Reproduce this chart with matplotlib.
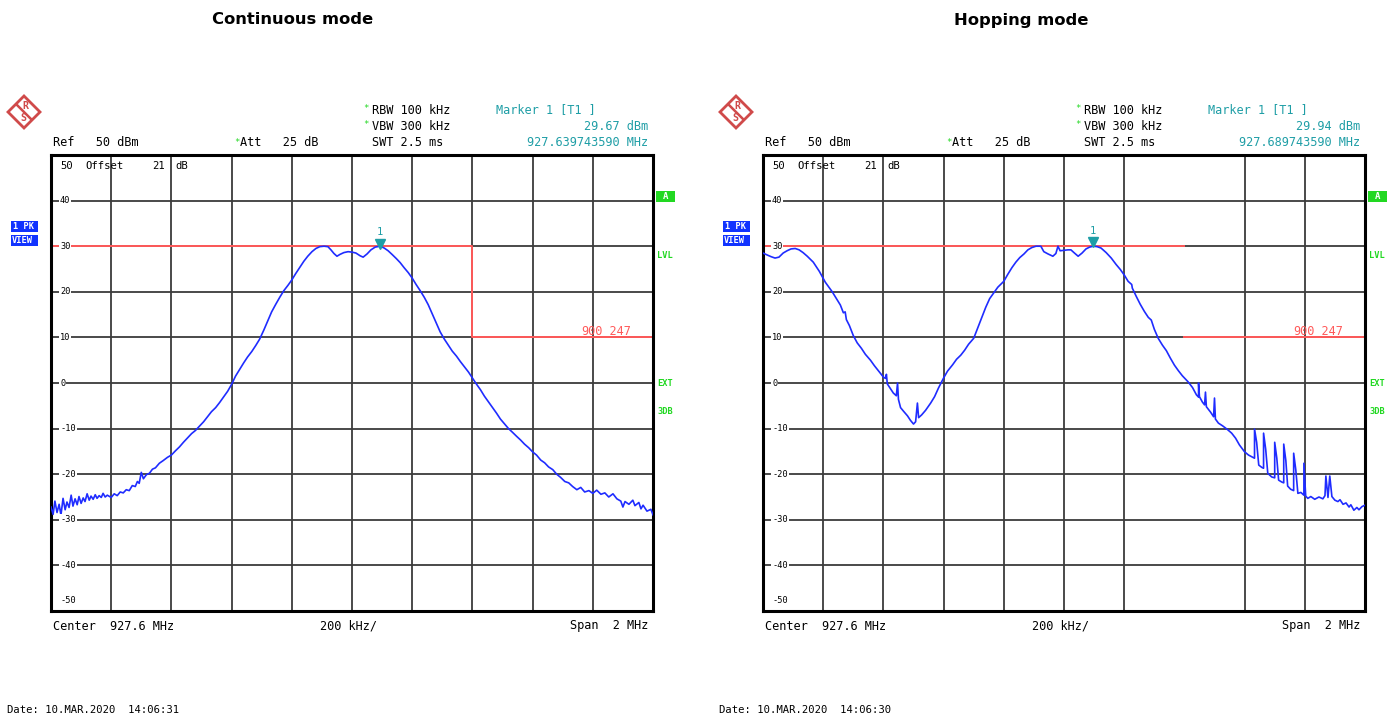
"""Spectrum analyser screenshots: continuous vs hopping mode."""

import matplotlib
matplotlib.use("Agg")
import matplotlib.pyplot as plt
from matplotlib.patches import Rectangle, Polygon


# =============================================================================
# Data (offset from centre in MHz, level dBm)
CENTER_MHZ = 927.6
SPAN_MHZ = 2.0
REF_LEVEL = 50
BOTTOM_LEVEL = -50

cont_offset = [
    -1.000, -0.993, -0.987, -0.980, -0.973, -0.967, -0.960, -0.953, -0.947, -0.940,
    -0.933, -0.927, -0.920, -0.913, -0.907, -0.900, -0.893, -0.887, -0.880, -0.873,
    -0.867, -0.860, -0.853, -0.847, -0.840, -0.833, -0.827, -0.820, -0.813, -0.800,
    -0.790, -0.780, -0.770, -0.760, -0.750, -0.740, -0.730, -0.720, -0.713, -0.707,
    -0.700, -0.693, -0.683, -0.673, -0.663, -0.653, -0.640, -0.627, -0.613, -0.600,
    -0.587, -0.573, -0.560, -0.547, -0.533, -0.520, -0.507, -0.493, -0.480, -0.467,
    -0.453, -0.440, -0.427, -0.413, -0.400, -0.387, -0.373, -0.360, -0.347, -0.333,
    -0.320, -0.307, -0.293, -0.280, -0.267, -0.253, -0.240, -0.227, -0.213, -0.200,
    -0.187, -0.173, -0.160, -0.147, -0.133, -0.120, -0.107, -0.093, -0.080, -0.070,
    -0.060, -0.050, -0.040, -0.027, -0.013, 0.000, 0.013, 0.027, 0.037, 0.050,
    0.063, 0.077, 0.093, 0.107, 0.120, 0.133, 0.147, 0.160, 0.173, 0.187,
    0.200, 0.213, 0.227, 0.240, 0.253, 0.267, 0.280, 0.293, 0.307, 0.320,
    0.333, 0.347, 0.360, 0.373, 0.387, 0.400, 0.413, 0.427, 0.440, 0.453,
    0.467, 0.480, 0.493, 0.507, 0.520, 0.533, 0.547, 0.560, 0.573, 0.587,
    0.600, 0.613, 0.627, 0.640, 0.653, 0.667, 0.680, 0.693, 0.707, 0.720,
    0.733, 0.747, 0.760, 0.773, 0.787, 0.800, 0.813, 0.827, 0.840, 0.853,
    0.867, 0.880, 0.893, 0.900, 0.907, 0.920, 0.933, 0.940, 0.953, 0.960,
    0.967, 0.980, 0.993, 1.000]
cont_level = [
    -27.2, -28.8, -25.9, -28.4, -26.6, -29.0, -25.3, -27.8, -26.1, -27.3,
    -24.6, -27.0, -25.4, -26.7, -24.9, -26.4, -25.2, -26.0, -24.3, -25.7,
    -24.8, -25.5, -24.5, -25.3, -24.7, -25.1, -24.2, -25.0, -24.6, -25.1,
    -24.3, -24.7, -23.9, -24.1, -23.4, -23.6, -22.5, -22.7, -21.6, -22.0,
    -19.6, -21.0, -20.1, -19.8, -18.9, -18.6, -17.6, -17.0, -16.3, -15.8,
    -14.9, -14.0, -13.0, -12.1, -11.1, -10.4, -9.5, -8.5, -7.4, -6.3,
    -5.4, -4.3, -3.1, -1.8, -0.3, 1.5, 3.0, 4.4, 5.7, 6.9,
    8.2, 9.6, 11.6, 13.6, 15.6, 17.3, 18.8, 20.2, 21.4, 22.6,
    24.0, 25.4, 26.7, 27.8, 28.8, 29.5, 29.9, 30.0, 29.9, 29.2,
    28.4, 27.8, 28.2, 28.6, 28.8, 28.7, 28.5, 27.9, 27.6, 28.3,
    29.2, 29.8, 30.0, 29.6, 29.0, 28.2, 27.3, 26.4, 25.3, 24.2,
    23.0, 21.6, 20.2, 18.8, 17.2, 15.1, 13.1, 11.2, 9.6, 8.3,
    7.0, 5.9, 4.7, 3.6, 2.4, 1.1, -0.2, -1.5, -2.9, -4.1,
    -5.4, -6.6, -7.9, -9.0, -10.0, -10.8, -11.7, -12.5, -13.4, -14.2,
    -15.1, -15.8, -16.9, -17.5, -18.4, -19.0, -20.0, -20.7, -21.6, -21.9,
    -22.7, -23.4, -22.9, -23.9, -23.6, -24.2, -23.5, -24.4, -24.1, -25.0,
    -24.3, -25.4, -25.9, -27.2, -26.0, -26.6, -25.7, -26.9, -26.2, -27.6,
    -26.8, -28.1, -27.7, -28.9]

hop_offset = [
    -1.000, -0.987, -0.973, -0.960, -0.947, -0.933, -0.920, -0.907, -0.893, -0.880,
    -0.867, -0.853, -0.833, -0.813, -0.793, -0.770, -0.753, -0.743, -0.733, -0.727,
    -0.723, -0.713, -0.700, -0.687, -0.673, -0.660, -0.643, -0.630, -0.617, -0.600,
    -0.593, -0.590, -0.587, -0.577, -0.567, -0.557, -0.553, -0.550, -0.543, -0.533,
    -0.520, -0.510, -0.500, -0.493, -0.487, -0.483, -0.473, -0.460, -0.443, -0.430,
    -0.417, -0.400, -0.387, -0.370, -0.357, -0.343, -0.330, -0.317, -0.300, -0.287,
    -0.273, -0.260, -0.247, -0.233, -0.220, -0.200, -0.187, -0.173, -0.160, -0.147,
    -0.133, -0.120, -0.107, -0.093, -0.077, -0.067, -0.053, -0.037, -0.027, -0.020,
    -0.013, 0.000, 0.013, 0.023, 0.033, 0.047, 0.060, 0.073, 0.085, 0.097,
    0.110, 0.123, 0.140, 0.157, 0.173, 0.187, 0.200, 0.213, 0.225, 0.227,
    0.240, 0.253, 0.267, 0.280, 0.290, 0.300, 0.313, 0.327, 0.340, 0.353,
    0.367, 0.380, 0.393, 0.413, 0.427, 0.440, 0.447, 0.447, 0.450, 0.460,
    0.467, 0.470, 0.473, 0.487, 0.497, 0.500, 0.503, 0.513, 0.527, 0.543,
    0.557, 0.570, 0.583, 0.600, 0.613, 0.627, 0.633, 0.633, 0.640, 0.647,
    0.657, 0.663, 0.663, 0.670, 0.677, 0.690, 0.700, 0.700, 0.707, 0.713,
    0.723, 0.730, 0.730, 0.737, 0.743, 0.753, 0.763, 0.763, 0.770, 0.777,
    0.787, 0.797, 0.797, 0.803, 0.810, 0.820, 0.833, 0.847, 0.860, 0.867,
    0.870, 0.877, 0.883, 0.890, 0.900, 0.910, 0.917, 0.927, 0.937, 0.947,
    0.953, 0.963, 0.973, 0.980, 0.990, 1.000]
hop_level = [
    28.5, 28.1, 27.7, 27.4, 27.6, 28.5, 29.0, 29.4, 29.5, 29.2,
    28.6, 27.8, 26.5, 24.5, 22.1, 20.0, 18.2, 17.1, 15.4, 15.6,
    13.9, 12.6, 10.4, 8.8, 7.6, 6.3, 5.0, 3.8, 2.7, 1.3,
    1.0, 1.9, -0.2, -1.2, -2.2, -2.8, 0.0, -3.6, -5.4, -6.2,
    -7.2, -8.2, -9.0, -8.5, -4.4, -7.6, -7.0, -6.0, -4.4, -3.0,
    -1.1, 1.1, 2.6, 4.0, 5.2, 6.1, 7.2, 8.5, 9.8, 12.0,
    14.4, 16.6, 18.5, 19.8, 21.0, 22.3, 23.8, 25.3, 26.5, 27.5,
    28.3, 29.2, 29.7, 30.0, 30.0, 28.8, 28.3, 27.8, 28.4, 30.0,
    29.0, 29.1, 29.2, 29.2, 28.6, 27.8, 28.5, 29.4, 29.8, 30.0,
    29.9, 29.6, 28.6, 27.4, 26.0, 24.9, 23.7, 22.3, 21.6, 20.8,
    19.0, 17.3, 15.7, 14.4, 13.8, 11.8, 9.8, 8.3, 7.1, 5.5,
    3.9, 2.7, 1.6, 0.2, -1.0, -2.6, -3.1, 0.0, -3.0, -4.2,
    -4.8, -2.0, -5.2, -6.4, -7.4, -3.3, -7.9, -8.8, -9.4, -10.2,
    -11.0, -12.1, -13.6, -15.1, -15.8, -16.3, -16.5, -10.1, -13.0, -18.0,
    -18.5, -18.7, -11.0, -14.5, -19.8, -20.6, -20.8, -13.0, -16.5, -21.3,
    -21.7, -21.9, -13.4, -17.0, -22.6, -23.3, -23.6, -15.4, -19.0, -24.2,
    -24.0, -24.6, -17.6, -24.8, -25.3, -24.9, -25.5, -25.0, -25.4, -24.7,
    -20.4, -25.1, -20.4, -24.9, -25.7, -26.0, -25.6, -26.6, -26.3, -27.2,
    -26.7, -27.9, -27.3, -27.8, -27.1, -26.8]

# limit line "900_247": 30 dBm up to 928.0 MHz, 10 dBm above
limit_break_mhz = 928.0
limit_upper = 30
limit_lower = 10

titles = ["Continuous mode", "Hopping mode"]
marker_offset = [0.093, 0.097]
marker_level = [29.67, 29.94]
marker_level_txt = ["29.67 dBm", "29.94 dBm"]
marker_freq_txt = ["927.639743590 MHz", "927.689743590 MHz"]
dates = ["Date: 10.MAR.2020  14:06:31", "Date: 10.MAR.2020  14:06:30"]
level_ticks = [40, 30, 20, 10, 0, -10, -20, -30, -40]


# =============================================================================
W, H = 1400, 717
MONO = "DejaVu Sans Mono"
TRACE = "#1f2cff"
RED = "#ff5a5a"
TEAL = "#1f9ea6"
GREEN = "#22d822"
GRIDC = "#3c3c3c"
LOGO = "#d04a4a"

fig = plt.figure(figsize=(W / 100, H / 100), dpi=100)


def fx(x):
    return x / W


def fy(y):
    return 1 - y / H


def put(x, y, s, color="black", size=8.6, ha="left", **kw):
    fig.text(fx(x), fy(y), s, color=color, fontsize=size, family=MONO,
             ha=ha, va="center", **kw)


def draw_panel(k, dx, offsets, levels, skip_limit_vline):
    f0 = CENTER_MHZ - SPAN_MHZ / 2
    f1 = CENTER_MHZ + SPAN_MHZ / 2
    ax = fig.add_axes([fx(51 + dx), fy(611), 602 / W, 456 / H])
    ax.set_xlim(f0, f1)
    ax.set_ylim(BOTTOM_LEVEL, REF_LEVEL)
    ax.set_xticks([])
    ax.set_yticks([])
    for sp in ax.spines.values():
        sp.set_linewidth(2.2)
        sp.set_color("black")

    # grid, 10 x 10 divisions
    for i in range(1, 10):
        f = f0 + i * SPAN_MHZ / 10
        if skip_limit_vline and abs(f - limit_break_mhz) < 1e-6:
            continue
        ax.axvline(f, color=GRIDC, lw=1.3, zorder=1)
    for lv in level_ticks:
        ax.axhline(lv, color=GRIDC, lw=1.3, zorder=1)

    # limit line
    if skip_limit_vline:
        ax.plot([f0, limit_break_mhz], [limit_upper, limit_upper], color=RED, lw=1.4, zorder=2)
        ax.plot([limit_break_mhz, f1], [limit_lower, limit_lower], color=RED, lw=1.4, zorder=2)
    else:
        ax.plot([f0, limit_break_mhz, limit_break_mhz, f1],
                [limit_upper, limit_upper, limit_lower, limit_lower],
                color=RED, lw=1.4, zorder=2)
    ax.text(0.963, limit_lower + 1.6, "900_247", transform=ax.get_yaxis_transform(),
            color=RED, fontsize=8.6, family=MONO, ha="right", va="center", zorder=4)

    # trace
    freqs = [CENTER_MHZ + o for o in offsets]
    ax.plot(freqs, levels, color=TRACE, lw=1.2, zorder=3)

    # marker 1
    mf = CENTER_MHZ + marker_offset[k]
    ax.plot([mf], [marker_level[k] + 0.9], marker="v", ms=6.5, color=TEAL,
            ls="none", zorder=5)
    ax.text(mf, marker_level[k] + 3.5, "1", color=TEAL, fontsize=7.5, family=MONO,
            ha="center", va="center", zorder=5)

    # level labels inside the grid
    yt = ax.get_yaxis_transform()
    for lv in level_ticks:
        ax.text(0.015, lv, str(lv), transform=yt, fontsize=6.2, family=MONO,
                ha="left", va="center", zorder=4,
                bbox=dict(facecolor="white", edgecolor="none", pad=0.6))
    ax.text(0.015, -47.8, "-50", transform=yt, fontsize=6.2, family=MONO,
            ha="left", va="center", zorder=4)

    # header
    put(60 + dx, 166, "50", size=7.6)
    put(85 + dx, 166, "Offset", size=7.6)
    put(152 + dx, 166, "21", size=7.6)
    put(175 + dx, 166, "dB", size=7.6)
    put(53 + dx, 143, "Ref   50 dBm")
    put(234 + dx, 142, "*", color=GREEN, size=6.5)
    put(240 + dx, 143, "Att   25 dB")
    put(363 + dx, 109, "*", color=GREEN, size=6.5)
    put(372 + dx, 110, "RBW 100 kHz")
    put(363 + dx, 125, "*", color=GREEN, size=6.5)
    put(372 + dx, 126, "VBW 300 kHz")
    put(372 + dx, 143, "SWT 2.5 ms")
    put(496 + dx, 110, "Marker 1 [T1 ]", color=TEAL)
    put(648 + dx, 126, marker_level_txt[k], color=TEAL, ha="right")
    put(648 + dx, 143, marker_freq_txt[k], color=TEAL, ha="right")

    # footer
    put(53 + dx, 626, "Center  927.6 MHz")
    put(320 + dx, 626, "200 kHz/")
    put(648 + dx, 626, "Span  2 MHz", ha="right")
    put(7 + dx, 710, dates[k], size=7.6)

    # title
    fig.text(fx(293 + dx + (16 if dx else 0)), fy(20), titles[k], fontsize=11.8,
             fontweight="bold", ha="center", va="center")

    # trace / status boxes on the sides
    fig.patches.append(Rectangle((fx(11 + dx), fy(232)), 27 / W, 11 / H,
                                 transform=fig.transFigure, facecolor="#1133ff",
                                 edgecolor="none"))
    fig.patches.append(Rectangle((fx(11 + dx), fy(246)), 27 / W, 11 / H,
                                 transform=fig.transFigure, facecolor="#1133ff",
                                 edgecolor="none"))
    put(13 + dx, 226.5, "1 PK", color="white", size=6.2, fontweight="bold")
    put(12 + dx, 240.5, "VIEW", color="white", size=6.2, fontweight="bold")
    fig.patches.append(Rectangle((fx(656 + dx), fy(202)), 19 / W, 11 / H,
                                 transform=fig.transFigure, facecolor=GREEN,
                                 edgecolor="none"))
    put(665.5 + dx, 196.5, "A", color="white", size=6.5, ha="center", fontweight="bold")
    put(657 + dx, 255, "LVL", color=GREEN, size=6.2, fontweight="bold")
    put(657 + dx, 384, "EXT", color=GREEN, size=6.2, fontweight="bold")
    put(657 + dx, 412, "3DB", color=GREEN, size=6.2, fontweight="bold")

    # R&S logo: diamond split by a diagonal, letters in each half
    cx, cy, r = 24 + dx, 112, 16
    fig.patches.append(Polygon([(fx(cx), fy(cy - r)), (fx(cx + r), fy(cy)),
                                (fx(cx), fy(cy + r)), (fx(cx - r), fy(cy))],
                               closed=True, transform=fig.transFigure,
                               facecolor="none", edgecolor=LOGO, lw=2.0))
    fig.patches.append(Polygon([(fx(cx - r / 2), fy(cy - r / 2)),
                                (fx(cx + r / 2), fy(cy + r / 2))],
                               closed=False, transform=fig.transFigure,
                               facecolor="none", edgecolor=LOGO, lw=1.8))
    put(cx + 1, cy - 6, "R", color=LOGO, size=7.2, ha="center", fontweight="bold")
    put(cx - 1, cy + 6, "S", color=LOGO, size=7.2, ha="center", fontweight="bold")


draw_panel(0, 0, cont_offset, cont_level, False)
draw_panel(1, 712, hop_offset, hop_level, True)

fig.savefig("out.png", dpi=100)
